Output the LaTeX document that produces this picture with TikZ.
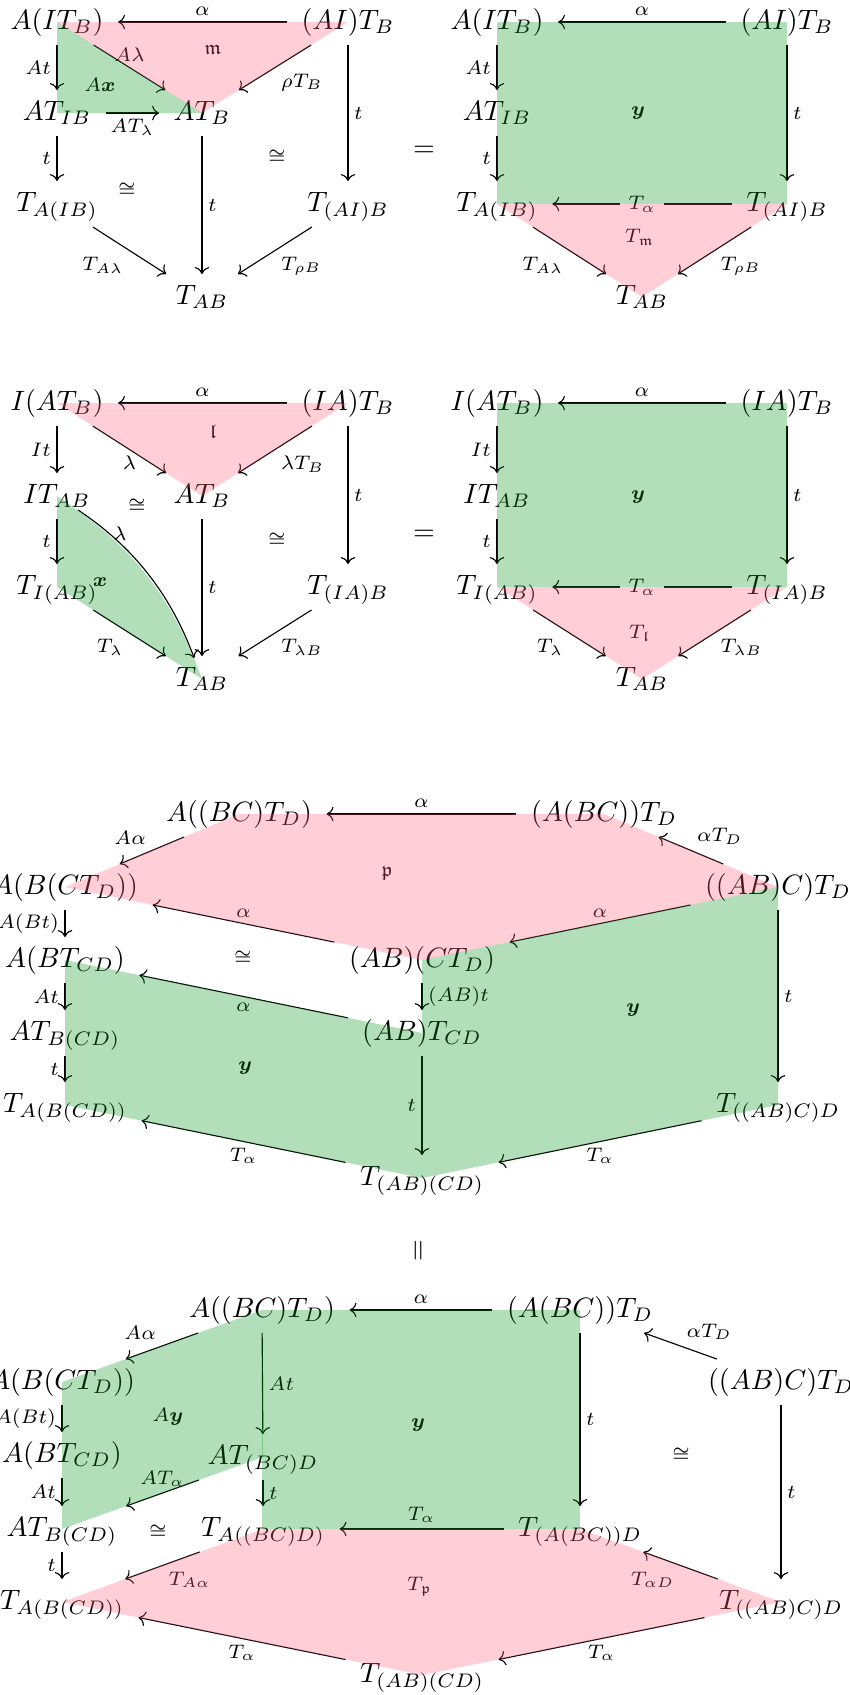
\documentclass[tikz,border=0pt]{standalone}
\usepackage{amsmath,amssymb}
\usetikzlibrary{arrows.meta}
\definecolor{regiongreen}{RGB}{0,148,25}
\definecolor{regionpink}{RGB}{255,92,118}

\begin{document}
\begin{tikzpicture}[x=0.357pt, y=-0.357pt,
    obj/.style={inner xsep=5pt, inner ysep=3pt, text height=7.5pt, text depth=2.5pt},
    lbl/.style={font=\scriptsize, inner sep=2pt},
    desc/.style={lbl, fill=white, inner xsep=3pt},
    mor/.style={-{Computer Modern Rightarrow}},
    greenpart/.style={fill=regiongreen, fill opacity=0.3},
    pinkpart/.style={fill=regionpink, fill opacity=0.3}]
    \useasboundingbox (0,0) rectangle (850,1695);

    % Triangle m, left side
    \node[obj] (a1) at (57,22) {$A(IT_B)$};
    \node[obj] (b1) at (348,22) {$(AI)T_B$};
    \node[obj] (c1) at (57,113) {$AT_{IB}$};
    \node[obj] (d1) at (202,113) {$AT_B$};
    \node[obj] (e1) at (57,204) {$T_{A(IB)}$};
    \node[obj] (f1) at (348,204) {$T_{(AI)B}$};
    \node[obj] (g1) at (202,297) {$T_{AB}$};
    \draw[mor] (b1) -- (a1) node[lbl, midway, above] {$\alpha$};
    \draw[mor] (a1) -- (c1) node[lbl, midway, left] {$At$};
    \draw[mor] (a1) -- (d1) node[lbl, midway, above] {$A\lambda$};
    \draw[mor] (c1) -- (d1) node[lbl, midway, below] {$AT_\lambda$};
    \draw[mor] (b1) -- (d1) node[lbl, midway, below right] {$\rho T_B$};
    \draw[mor] (c1) -- (e1) node[lbl, midway, left] {$t$};
    \draw[mor] (d1) -- (g1) node[lbl, midway, right] {$t$};
    \draw[mor] (b1) -- (f1) node[lbl, midway, right] {$t$};
    \draw[mor] (e1) -- (g1) node[lbl, midway, below left] {$T_{A\lambda}$};
    \draw[mor] (f1) -- (g1) node[lbl, midway, below right] {$T_{\rho B}$};
    \node[lbl] (mm1) at (213,50) {$\mathfrak{m}$};
    \node[lbl] (ax1) at (100,85) {$A\boldsymbol{x}$};
    \fill[pinkpart] (a1.center) -- (b1.center) -- (d1.center) -- cycle;
    \fill[greenpart] (a1.center) -- (c1.center) -- (d1.center) -- cycle;

    % Triangle m, right side
    \node[obj] (a2) at (497,22) {$A(IT_B)$};
    \node[obj] (b2) at (787,22) {$(AI)T_B$};
    \node[obj] (c2) at (497,113) {$AT_{IB}$};
    \node[obj] (e2) at (497,204) {$T_{A(IB)}$};
    \node[obj] (f2) at (787,204) {$T_{(AI)B}$};
    \node[obj] (g2) at (642,297) {$T_{AB}$};
    \draw[mor] (b2) -- (a2) node[lbl, midway, above] {$\alpha$};
    \draw[mor] (a2) -- (c2) node[lbl, midway, left] {$At$};
    \draw[mor] (c2) -- (e2) node[lbl, midway, left] {$t$};
    \draw[mor] (b2) -- (f2) node[lbl, midway, right] {$t$};
    \draw[mor] (f2) -- (e2) node[desc, midway] {$T_\alpha$};
    \draw[mor] (e2) -- (g2) node[lbl, midway, below left] {$T_{A\lambda}$};
    \draw[mor] (f2) -- (g2) node[lbl, midway, below right] {$T_{\rho B}$};
    \node[lbl] (y2) at (638,113) {$\boldsymbol{y}$};
    \node[lbl] (tm2) at (640,237) {$T_{\mathfrak{m}}$};
    \fill[greenpart] (a2.center) rectangle (f2.center);
    \fill[pinkpart] (e2.center) -- (f2.center) -- (g2.center) -- cycle;

    % Triangle l, left side
    \node[obj] (a3) at (57,403) {$I(AT_B)$};
    \node[obj] (b3) at (348,403) {$(IA)T_B$};
    \node[obj] (c3) at (57,496) {$IT_{AB}$};
    \node[obj] (d3) at (202,496) {$AT_B$};
    \node[obj] (e3) at (57,587) {$T_{I(AB)}$};
    \node[obj] (f3) at (348,587) {$T_{(IA)B}$};
    \node[obj] (g3) at (202,679) {$T_{AB}$};
    \draw[mor] (b3) -- (a3) node[lbl, midway, above] {$\alpha$};
    \draw[mor] (a3) -- (c3) node[lbl, midway, left] {$It$};
    \draw[mor] (a3) -- (d3) node[lbl, midway, below] {$\lambda$};
    \draw[mor] (b3) -- (d3) node[lbl, midway, below right] {$\lambda T_B$};
    \draw[mor] (c3) -- (e3) node[lbl, midway, left] {$t$};
    \draw[mor] (d3) -- (g3) node[lbl, midway, right] {$t$};
    \draw[mor] (b3) -- (f3) node[lbl, midway, right] {$t$};
    \draw[mor] (e3) -- (g3) node[lbl, midway, below left] {$T_\lambda$};
    \draw[mor] (f3) -- (g3) node[lbl, midway, below right] {$T_{\lambda B}$};
    \draw[mor, shorten <=9pt, shorten >=8pt] (c3.center) to[bend left=18]
        node[lbl, pos=0.25, right] {$\lambda$} (g3.center);
    \node[lbl] (ll3) at (213,432) {$\mathfrak{l}$};
    \node[lbl] (x3) at (100,582) {$\boldsymbol{x}$};
    \fill[pinkpart] (a3.center) -- (b3.center) -- (d3.center) -- cycle;
    \fill[greenpart] (c3.center) -- (e3.center) -- (g3.center) to[bend right=18] (c3.center);

    % Triangle l, right side
    \node[obj] (a4) at (497,403) {$I(AT_B)$};
    \node[obj] (b4) at (787,403) {$(IA)T_B$};
    \node[obj] (c4) at (497,496) {$IT_{AB}$};
    \node[obj] (e4) at (497,587) {$T_{I(AB)}$};
    \node[obj] (f4) at (787,587) {$T_{(IA)B}$};
    \node[obj] (g4) at (642,679) {$T_{AB}$};
    \draw[mor] (b4) -- (a4) node[lbl, midway, above] {$\alpha$};
    \draw[mor] (a4) -- (c4) node[lbl, midway, left] {$It$};
    \draw[mor] (c4) -- (e4) node[lbl, midway, left] {$t$};
    \draw[mor] (b4) -- (f4) node[lbl, midway, right] {$t$};
    \draw[mor] (f4) -- (e4) node[desc, midway] {$T_\alpha$};
    \draw[mor] (e4) -- (g4) node[lbl, midway, below left] {$T_\lambda$};
    \draw[mor] (f4) -- (g4) node[lbl, midway, below right] {$T_{\lambda B}$};
    \node[lbl] (y4) at (638,497) {$\boldsymbol{y}$};
    \node[lbl] (tl4) at (640,633) {$T_{\mathfrak{l}}$};
    \fill[greenpart] (a4.center) rectangle (f4.center);
    \fill[pinkpart] (e4.center) -- (f4.center) -- (g4.center) -- cycle;

    % Pentagon p, upper side
    \node[obj] (n1) at (239,814) {$A((BC)T_D)$};
    \node[obj] (n2) at (604,814) {$(A(BC))T_D$};
    \node[obj] (n3) at (65,887) {$A(B(CT_D))$};
    \node[obj] (n4) at (778,887) {$((AB)C)T_D$};
    \node[obj] (n5) at (65,960) {$A(BT_{CD})$};
    \node[obj] (n6) at (422,960) {$(AB)(CT_D)$};
    \node[obj] (n7) at (65,1033) {$AT_{B(CD)}$};
    \node[obj] (n8) at (422,1033) {$(AB)T_{CD}$};
    \node[obj] (n9) at (65,1105) {$T_{A(B(CD))}$};
    \node[obj] (n10) at (778,1105) {$T_{((AB)C)D}$};
    \node[obj] (n11) at (422,1178) {$T_{(AB)(CD)}$};
    \draw[mor] (n2) -- (n1) node[lbl, midway, above] {$\alpha$};
    \draw[mor] (n1) -- (n3) node[lbl, midway, above left] {$A\alpha$};
    \draw[mor] (n4) -- (n2) node[lbl, midway, above right] {$\alpha T_D$};
    \draw[mor] (n4) -- (n6) node[lbl, midway, above] {$\alpha$};
    \draw[mor] (n6) -- (n3) node[lbl, midway, above] {$\alpha$};
    \draw[mor] (n3) -- (n5) node[lbl, midway, left] {$A(Bt)$};
    \draw[mor] (n5) -- (n7) node[lbl, midway, left] {$At$};
    \draw[mor] (n7) -- (n9) node[lbl, midway, left] {$t$};
    \draw[mor] (n6) -- (n8) node[lbl, midway, right] {$(AB)t$};
    \draw[mor] (n8) -- (n5) node[lbl, midway, below] {$\alpha$};
    \draw[mor] (n8) -- (n11) node[lbl, midway, left] {$t$};
    \draw[mor] (n4) -- (n10) node[lbl, midway, right] {$t$};
    \draw[mor] (n11) -- (n9) node[lbl, midway, below] {$T_\alpha$};
    \draw[mor] (n10) -- (n11) node[lbl, midway, below] {$T_\alpha$};
    \node[lbl] (pp5) at (387,873) {$\mathfrak{p}$};
    \node[lbl] (y5a) at (245,1068) {$\boldsymbol{y}$};
    \node[lbl] (y5b) at (633,1010) {$\boldsymbol{y}$};
    \fill[pinkpart] (n1.center) -- (n2.center) -- (n4.center) -- (n6.center) -- (n3.center) -- cycle;
    \fill[greenpart] (n5.center) -- (n8.center) -- (n11.center) -- (n9.center) -- cycle;
    \fill[greenpart] (n6.center) -- (n4.center) -- (n10.center) -- (n11.center) -- cycle;

    % Pentagon p, lower side
    \node[obj] (m1) at (262,1310) {$A((BC)T_D)$};
    \node[obj] (m2) at (580,1310) {$(A(BC))T_D$};
    \node[obj] (m3) at (62,1382) {$A(B(CT_D))$};
    \node[obj] (m4) at (781,1382) {$((AB)C)T_D$};
    \node[obj] (m5) at (62,1455) {$A(BT_{CD})$};
    \node[obj] (m6) at (263,1457) {$AT_{(BC)D}$};
    \node[obj] (m7) at (62,1529) {$AT_{B(CD)}$};
    \node[obj] (m8) at (263,1529) {$T_{A((BC)D)}$};
    \node[obj] (m9) at (580,1529) {$T_{(A(BC))D}$};
    \node[obj] (m10) at (62,1602) {$T_{A(B(CD))}$};
    \node[obj] (m11) at (781,1602) {$T_{((AB)C)D}$};
    \node[obj] (m12) at (422,1675) {$T_{(AB)(CD)}$};
    \draw[mor] (m2) -- (m1) node[lbl, midway, above] {$\alpha$};
    \draw[mor] (m1) -- (m3) node[lbl, midway, above left] {$A\alpha$};
    \draw[mor] (m4) -- (m2) node[lbl, midway, above right] {$\alpha T_D$};
    \draw[mor] (m3) -- (m5) node[lbl, midway, left] {$A(Bt)$};
    \draw[mor] (m5) -- (m7) node[lbl, midway, left] {$At$};
    \draw[mor] (m7) -- (m10) node[lbl, midway, left] {$t$};
    \draw[mor] (m1) -- (m6) node[lbl, midway, right] {$At$};
    \draw[mor] (m6) -- (m7) node[lbl, midway, above] {$AT_\alpha$};
    \draw[mor] (m6) -- (m8) node[lbl, midway, right] {$t$};
    \draw[mor] (m2) -- (m9) node[lbl, midway, right] {$t$};
    \draw[mor] (m9) -- (m8) node[lbl, midway, above] {$T_\alpha$};
    \draw[mor] (m4) -- (m11) node[lbl, midway, right] {$t$};
    \draw[mor] (m8) -- (m10) node[lbl, midway, below right] {$T_{A\alpha}$};
    \draw[mor] (m11) -- (m9) node[lbl, midway, below left] {$T_{\alpha D}$};
    \draw[mor] (m11) -- (m12) node[lbl, midway, below] {$T_\alpha$};
    \draw[mor] (m12) -- (m10) node[lbl, midway, below] {$T_\alpha$};
    \node[lbl] (ay6) at (168,1417) {$A\boldsymbol{y}$};
    \node[lbl] (y6) at (418,1425) {$\boldsymbol{y}$};
    \node[lbl] (tp6) at (420,1587) {$T_{\mathfrak{p}}$};
    \fill[greenpart] (m3.center) -- (m1.center) -- (m6.center) -- (m7.center) -- cycle;
    \fill[greenpart] (m1.center) rectangle (m9.center);
    \fill[pinkpart] (m8.center) -- (m9.center) -- (m11.center) -- (m12.center) -- (m10.center) -- cycle;

    % Isomorphism cells and equalities
    \foreach \p [count=\i] in {(127,190),(277,157),(137,506),(277,540),(243,958),(158,1532),(681,1455)}
        \node[lbl] (iso\i) at \p {$\cong$};
    \node (eq1) at (424,151) {$=$};
    \node (eq2) at (424,535) {$=$};
    \node[rotate=90] (eq3) at (420,1251) {$=$};

\end{tikzpicture}
\end{document}
